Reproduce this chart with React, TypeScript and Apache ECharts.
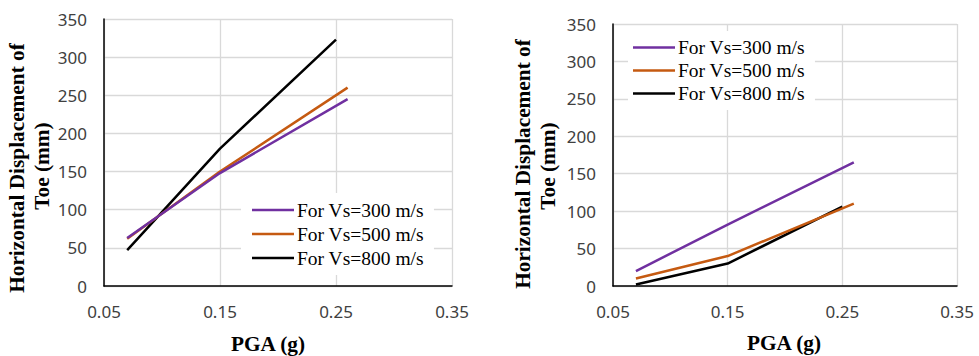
import React, { useEffect, useRef } from "react";
import * as echarts from "echarts";

// PGA values (g) at which the displacement was computed
const pgaShort = [0.07, 0.15, 0.25];
const pgaLong = [0.07, 0.15, 0.26];

// Left panel: horizontal displacement of toe (mm)
const leftVs300 = [63, 148, 245];
const leftVs500 = [62, 150, 260];
const leftVs800 = [47, 180, 323];

// Right panel: horizontal displacement of toe (mm)
const rightVs300 = [20, 82, 165];
const rightVs500 = [10, 40, 110];
const rightVs800 = [2, 30, 106];

const seriesNames = ["For Vs=300 m/s", "For Vs=500 m/s", "For Vs=800 m/s"];
const seriesColors = ["#7030A0", "#C55A11", "#000000"];

const xTicks = { min: 0.05, max: 0.35, step: 0.1 };
const yTicks = { min: 0, max: 350, step: 50 };

const xTitle = "PGA (g)";
const yTitleLines = ["Horizontal Displacement of", "Toe (mm)"];

const zip = (xs: number[], ys: number[]) => xs.map((x, i) => [x, ys[i]]);

export default function App() {
  const ref = useRef<HTMLDivElement>(null);

  useEffect(() => {
    if (!ref.current) return;
    const chart = echarts.init(ref.current, undefined, { renderer: "svg" });

    const tickFont = { fontFamily: "Noto Sans", fontSize: 17, color: "#404040" };
    const titleStyle = {
      fontFamily: "Liberation Serif",
      fontWeight: "bold",
      fontSize: 21.3,
      fill: "#000",
      align: "center",
      verticalAlign: "middle",
    };

    const makeX = (gridIndex: number) => ({
      type: "value" as const,
      gridIndex,
      min: xTicks.min,
      max: xTicks.max,
      interval: xTicks.step,
      axisLine: { show: true, onZero: false, lineStyle: { color: "#000", width: 1.5 } },
      axisTick: { show: false },
      axisLabel: { ...tickFont, margin: 17, formatter: (v: number) => v.toFixed(2) },
      splitLine: { show: true, lineStyle: { color: "#d9d9d9", width: 1.3 } },
    });

    const makeY = (gridIndex: number) => ({
      type: "value" as const,
      gridIndex,
      min: yTicks.min,
      max: yTicks.max,
      interval: yTicks.step,
      axisLine: { show: true, lineStyle: { color: "#000", width: 1.5 } },
      axisTick: { show: false },
      axisLabel: { ...tickFont, margin: 17 },
      splitLine: { show: true, lineStyle: { color: "#d9d9d9", width: 1.3 } },
    });

    const panels = [
      { xs: [pgaLong, pgaLong, pgaShort], ys: [leftVs300, leftVs500, leftVs800] },
      { xs: [pgaLong, pgaLong, pgaShort], ys: [rightVs300, rightVs500, rightVs800] },
    ];

    const series: any[] = [];
    panels.forEach((p, gi) => {
      p.ys.forEach((vals, si) => {
        series.push({
          type: "line",
          name: seriesNames[si],
          xAxisIndex: gi,
          yAxisIndex: gi,
          data: zip(p.xs[si], vals),
          symbol: "none",
          lineStyle: { color: seriesColors[si], width: 2.5 },
          itemStyle: { color: seriesColors[si] },
          z: 3 + (2 - si),
        });
      });
    });

    const legendBase = {
      orient: "vertical" as const,
      data: seriesNames,
      icon: "rect",
      itemWidth: 42,
      itemHeight: 2.5,
      itemGap: 0,
      backgroundColor: "#ffffff",
      selectedMode: false,
      textStyle: {
        fontFamily: "Liberation Serif",
        fontSize: 19.5,
        color: "#000",
        lineHeight: 24,
        padding: [0, 0, 0, -2],
      },
    };

    // Axis titles placed per panel
    const titles = [
      { x: 268, y: 344, yLine1: [17, 168], yLine2: [42, 166] },
      { x: 784, y: 343, yLine1: [523, 164], yLine2: [548, 166] },
    ];
    const graphic: any[] = [];
    titles.forEach((t) => {
      graphic.push({
        type: "text",
        x: t.x,
        y: t.y,
        style: { ...titleStyle, text: xTitle },
      });
      [t.yLine1, t.yLine2].forEach((pos, li) => {
        graphic.push({
          type: "text",
          x: pos[0],
          y: pos[1],
          rotation: Math.PI / 2,
          style: { ...titleStyle, text: yTitleLines[li] },
        });
      });
    });

    chart.setOption({
      animation: false,
      grid: [
        { left: 104, right: 527, top: 19, bottom: 70, containLabel: false },
        { left: 613, right: 22, top: 24, bottom: 70, containLabel: false },
      ],
      xAxis: [makeX(0), makeX(1)],
      yAxis: [makeY(0), makeY(1)],
      legend: [
        { ...legendBase, left: 241, top: 193, padding: [5, 10, 5, 11] },
        {
          ...legendBase,
          left: 628,
          top: 31,
          padding: [5, 10, 5, 5],
          textStyle: { ...legendBase.textStyle, lineHeight: 23 },
        },
      ],
      graphic,
      series,
    });

    return () => chart.dispose();
  }, []);

  return (
    <div
      ref={ref}
      style={{ position: "fixed", left: 0, top: 0, width: 979, height: 356, background: "#fff" }}
    />
  );
}
